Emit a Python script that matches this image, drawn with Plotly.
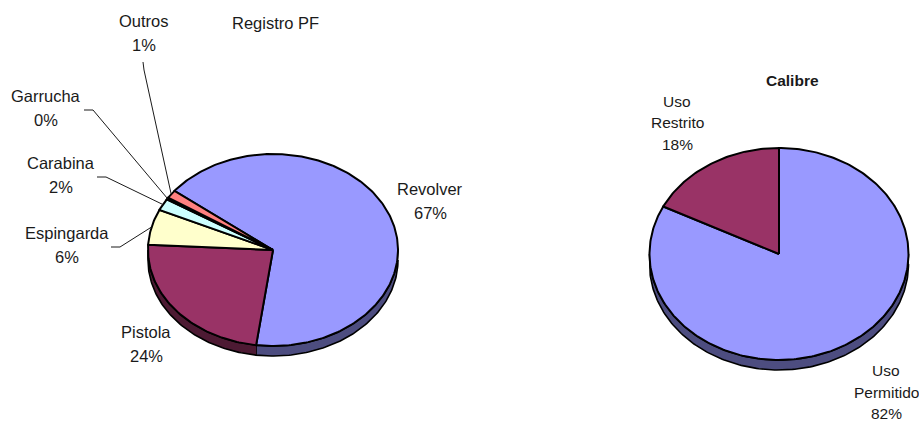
"""
Registro PF / Calibre: two tilted 3D pies, drawn as filled scatter paths
"""
import math
import plotly.graph_objects as go

# Data
registro_labels = ["Revolver", "Pistola", "Espingarda", "Carabina", "Garrucha", "Outros"]
registro_values = [66.6, 23.7, 6.0, 2.0, 0.3, 1.4]
calibre_labels = ["Uso<br>Permitido", "Uso<br>Restrito"]
calibre_values = [82.4, 17.6]

# Colors
registro_colors = ["#9999FF", "#993366", "#FFFFCC", "#CCFFFF", "#660066", "#FF8080"]
registro_sides = ["#4D4D80", "#4D1A33", "#808066", "#668080", "#330033", "#804040"]
calibre_colors = ["#9999FF", "#993366"]
calibre_sides = ["#4D4D80", "#4D1A33"]

FONT = "Liberation Sans"
TEXT_COLOR = "#1a1a1a"


def rim(pie, angle):
    """Point on the top ellipse, angle in degrees clockwise from 12 o'clock"""
    a = math.radians(angle)
    return pie["cx"] + pie["rx"] * math.sin(a), pie["cy"] - pie["ry"] * math.cos(a)


def arc(pie, start, end):
    n = max(2, int(abs(end - start)) + 1)
    return [rim(pie, start + (end - start) * i / (n - 1)) for i in range(n)]


def add_polygon(fig, points, color, width=2):
    fig.add_trace(go.Scatter(
        x=[p[0] for p in points],
        y=[p[1] for p in points],
        mode="lines",
        fill="toself",
        fillcolor=color,
        line=dict(color="black", width=width),
        hoverinfo="skip",
        showlegend=False,
    ))


def slice_angles(values, start_angle):
    total = sum(values)
    angles = []
    current = start_angle
    for v in values:
        sweep = v / total * 360
        angles.append((current, current + sweep))
        current += sweep
    return angles


def add_pie(fig, pie, values, colors, sides):
    angles = slice_angles(values, pie["start"])

    # side wall first, only the part facing the viewer (90 to 270 degrees)
    for (a0, a1), side in zip(angles, sides):
        for shift in (0, 360):
            lo = max(a0 - shift, 90)
            hi = min(a1 - shift, 270)
            if hi <= lo:
                continue
            front = arc(pie, lo, hi)
            back = [(x, y + pie["depth"]) for x, y in reversed(front)]
            add_polygon(fig, front + back, side, width=1.6)

    # top face
    for (a0, a1), color in zip(angles, colors):
        points = [(pie["cx"], pie["cy"])] + arc(pie, a0, a1) + [(pie["cx"], pie["cy"])]
        add_polygon(fig, points, color)
    return angles


def add_lines(text, x, y, spacing, size=16.5, bold=False):
    """One annotation per text line, the source uses a wider leading than <br>"""
    for i, line in enumerate(text.split("<br>")):
        fig.add_annotation(
            x=x, y=y + i * spacing,
            text=f"<b>{line}</b>" if bold else line,
            showarrow=False,
            xanchor="center", yanchor="middle",
            font=dict(family=FONT, size=size, color=TEXT_COLOR),
        )


fig = go.Figure()

left_pie = dict(cx=273, cy=250, rx=125, ry=96, depth=10, start=308)
right_pie = dict(cx=779, cy=254, rx=129.5, ry=106, depth=10, start=0)

left_angles = add_pie(fig, left_pie, registro_values, registro_colors, registro_sides)
right_angles = add_pie(fig, right_pie, calibre_values, calibre_colors, calibre_sides)

# Leader lines: elbow from the label, then to the rim at the middle of the slice
leaders = {
    "Espingarda": [(111, 247), (120, 247)],
    "Carabina": [(97, 177), (106, 177)],
    "Garrucha": [(84, 110), (93, 110)],
    "Outros": [(143, 62), (144, 70)],
}
for name, elbow in leaders.items():
    a0, a1 = left_angles[registro_labels.index(name)]
    end = rim(left_pie, (a0 + a1) / 2)
    path = elbow + [end]
    fig.add_trace(go.Scatter(
        x=[p[0] for p in path],
        y=[p[1] for p in path],
        mode="lines",
        line=dict(color="#1a1a1a", width=1),
        hoverinfo="skip",
        showlegend=False,
    ))

# Labels, percent text comes from the values
left_label_pos = [(430, 189), (146, 332), (67, 233), (61, 163), (46, 96), (144, 21)]
for name, value, (x, y) in zip(registro_labels, registro_values, left_label_pos):
    add_lines(f"{name}<br>{round(value)}%", x, y, 24)

right_label_pos = [(886, 370.5), (677, 101)]
for name, value, (x, y) in zip(calibre_labels, calibre_values, right_label_pos):
    add_lines(f"{name}<br>{round(value)}%", x, y, 21.5, size=15.5)

add_lines("Registro PF", 275, 23, 24)
add_lines("Calibre", 792, 80, 24, size=15.5, bold=True)

fig.update_layout(
    width=919,
    height=422,
    margin=dict(l=0, r=0, t=0, b=0),
    paper_bgcolor="white",
    plot_bgcolor="white",
    showlegend=False,
)
fig.update_xaxes(range=[0, 919], visible=False)
fig.update_yaxes(range=[422, 0], visible=False)

# the page's default body margin would push the figure 8px off
fig.write_html(
    "out.html",
    config=dict(displayModeBar=False),
    post_script="document.body.style.margin = '0';",
)
